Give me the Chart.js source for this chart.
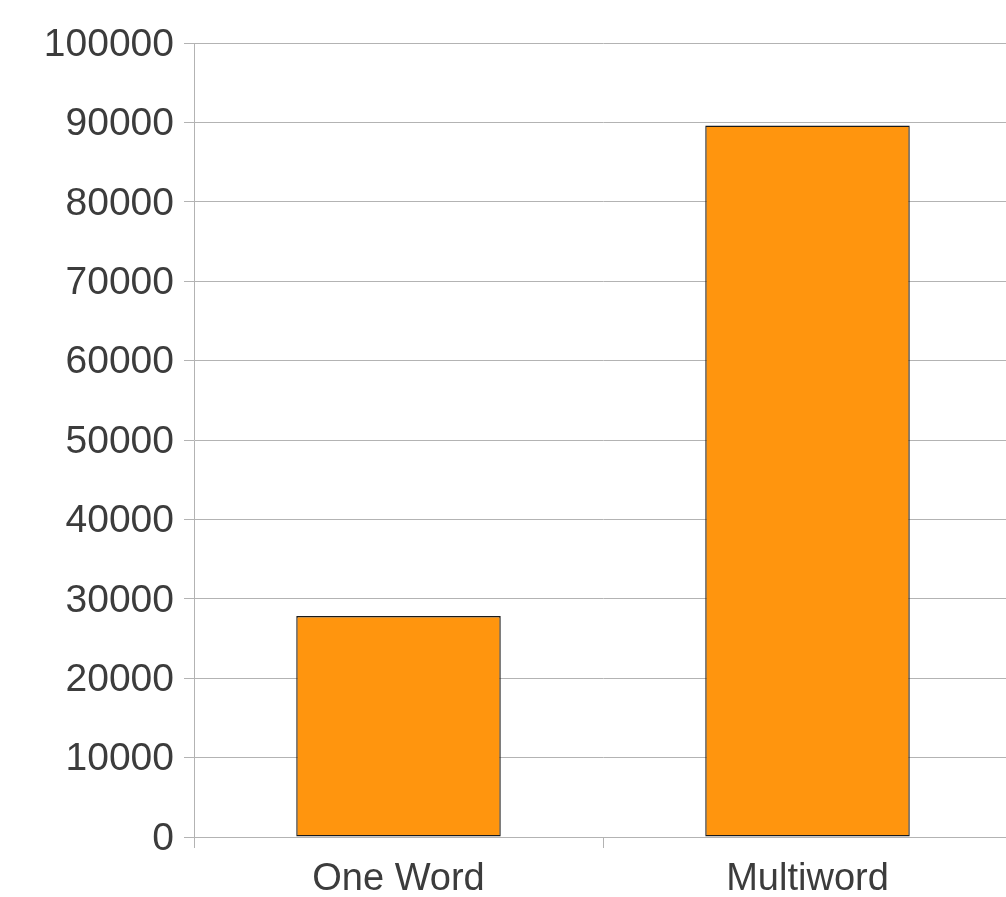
<!DOCTYPE html>
<html>
<head>
<meta charset="utf-8">
<script src="https://cdn.jsdelivr.net/npm/chart.js@4"></script>
<style>
  html, body { margin: 0; padding: 0; background: #fff; overflow: hidden; }
  #wrap { position: relative; width: 1012px; height: 897px; }
</style>
</head>
<body>
<div id="wrap"><canvas id="wordChart"></canvas></div>
<script>
/* ======================
   DATA
====================== */

const categories = ["One Word", "Multiword"];
const counts = [27820, 89600];
const yTicks = [0, 10000, 20000, 30000, 40000, 50000, 60000, 70000, 80000, 90000, 100000];

const textColor = "#3c3c3c";
const gridColor = "#b3b3b3";

Chart.defaults.font.family = "'Liberation Sans', Arial, sans-serif";
Chart.defaults.font.size = 38;
Chart.defaults.color = textColor;

/* ======================
   BAR CHART
====================== */

const ctx = document
  .getElementById("wordChart")
  ?.getContext("2d");

if (ctx) {
  new Chart(ctx, {
    type: "bar",
    data: {
      labels: categories,
      datasets: [{
        data: counts,
        backgroundColor: "#ff950e",
        borderColor: "#1a1a1a",
        borderWidth: 1.4,
        borderSkipped: false,
        categoryPercentage: 1,
        barPercentage: 0.5
      }]
    },
    options: {
      responsive: true,
      maintainAspectRatio: false,
      animation: false,
      layout: { padding: { top: 43, right: 0, left: 0, bottom: 0 } },
      plugins: {
        legend: { display: false },
        tooltip: { enabled: false }
      },
      scales: {
        x: {
          offset: true,
          grid: {
            offset: true,
            drawOnChartArea: false,
            drawTicks: true,
            tickLength: 11,
            color: gridColor
          },
          border: { display: false },
          ticks: { padding: 9, color: textColor },
          afterFit: s => { s.height = 60; }
        },
        y: {
          min: 0,
          max: 100000,
          afterBuildTicks: s => { s.ticks = yTicks.map(v => ({ value: v })); },
          grid: {
            color: gridColor,
            tickLength: 10
          },
          border: { color: gridColor },
          ticks: {
            padding: 10,
            labelOffset: 2,
            color: textColor,
            font: { size: 39 },
            callback: v => String(v)
          },
          afterFit: s => { s.width = 194; }
        }
      }
    }
  });
}
</script>
</body>
</html>
